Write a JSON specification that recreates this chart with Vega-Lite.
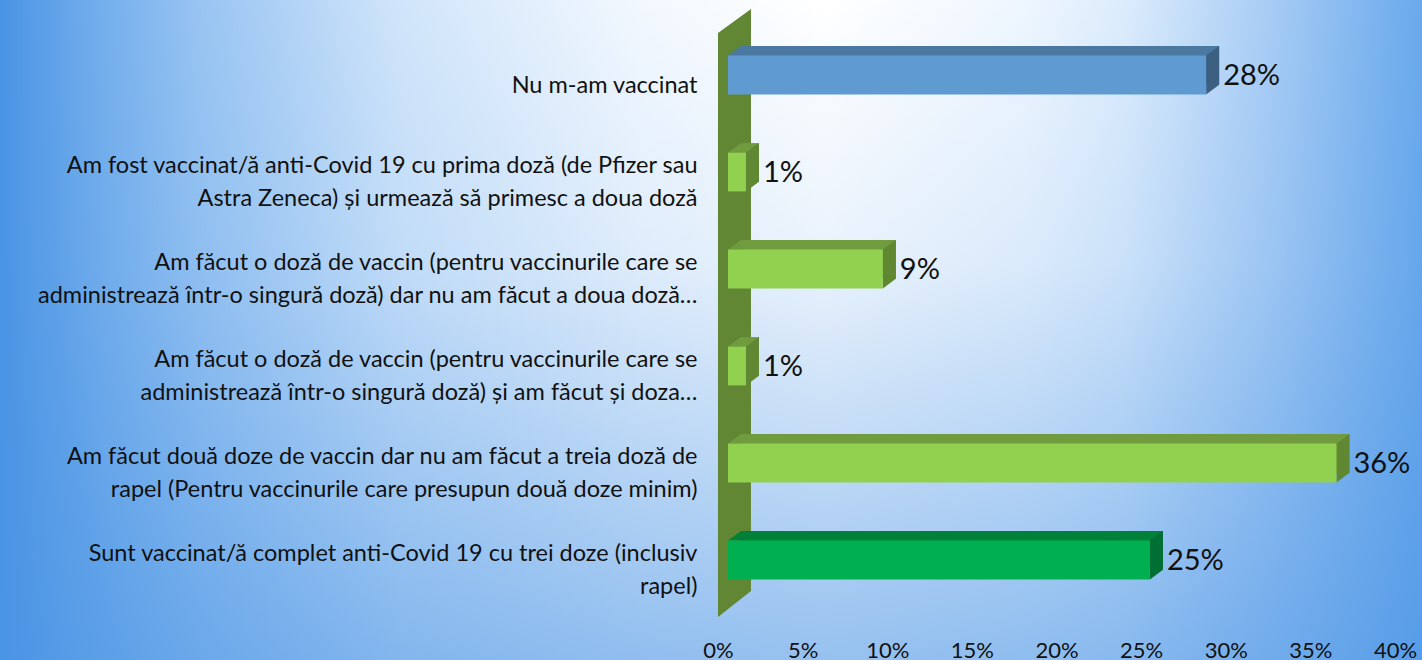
{
  "$schema": "https://vega.github.io/schema/vega-lite/v6.json",
  "width": 1422,
  "height": 660,
  "autosize": {"type": "none"},
  "padding": 0,
  "background": "#8fc0f0",
  "config": {
    "font": "Lato",
    "view": {
      "stroke": null,
      "fill": {
        "gradient": "linear",
        "x1": 0, "y1": 0, "x2": 1, "y2": 0,
        "stops": [
          {"offset": 0, "color": "#4a94e4"},
          {"offset": 0.07, "color": "#73aeec"},
          {"offset": 0.14, "color": "#98c4f2"},
          {"offset": 0.28, "color": "#d0e5fa"},
          {"offset": 0.45, "color": "#f2f8fe"},
          {"offset": 0.58, "color": "#ffffff"},
          {"offset": 0.72, "color": "#eef6fe"},
          {"offset": 0.79, "color": "#dcecfc"},
          {"offset": 0.89, "color": "#a9cdf5"},
          {"offset": 1, "color": "#69a9ec"}
        ]
      }
    }
  },
  "data": {
    "values": [
      {"answer": "Nu m-am vaccinat", "group": "Nevaccinat", "share": 0.2825},
      {"answer": "Am fost vaccinat/ă anti-Covid 19 cu prima doză (de Pfizer sau\nAstra Zeneca) și urmează să primesc a doua doză", "group": "Parțial", "share": 0.0106},
      {"answer": "Am făcut o doză de vaccin (pentru vaccinurile care se\nadministrează într-o singură doză) dar nu am făcut a doua doză…", "group": "Parțial", "share": 0.0915},
      {"answer": "Am făcut o doză de vaccin (pentru vaccinurile care se\nadministrează într-o singură doză) și am făcut și doza…", "group": "Parțial", "share": 0.0106},
      {"answer": "Am făcut două doze de vaccin dar nu am făcut a treia doză de\nrapel (Pentru vaccinurile care presupun două doze minim)", "group": "Parțial", "share": 0.3595},
      {"answer": "Sunt vaccinat/ă complet anti-Covid 19 cu trei doze (inclusiv\nrapel)", "group": "Complet", "share": 0.2493}
    ]
  },
  "layer": [
    {
      "transform": [{"filter": "datum.group == 'Nevaccinat'"}],
      "mark": {
        "type": "rect",
        "fill": {
          "gradient": "linear",
          "x1": 0, "y1": 0, "x2": 0, "y2": 1,
          "stops": [
            {"offset": 0, "color": "rgba(74,148,228,0)"},
            {"offset": 0.4, "color": "rgba(74,148,228,0.12)"},
            {"offset": 1, "color": "rgba(74,148,228,0.58)"}
          ]
        }
      },
      "encoding": {"x": {"datum": -0.43, "type": "quantitative"}, "x2": {"datum": 0.42}}
    },
    {
      "transform": [{"filter": "datum.group == 'Nevaccinat'"}],
      "mark": {
        "type": "point",
        "filled": true,
        "opacity": 1,
        "color": "#628734",
        "strokeWidth": 0,
        "size": 4,
        "shape": "M-16.6,-42L16.4,-66L16.4,516L-16.6,542Z"
      },
      "encoding": {
        "x": {"datum": 0.0098, "type": "quantitative"},
        "y": {"field": "answer", "type": "nominal", "sort": null}
      }
    },
    {
      "mark": {"type": "bar", "xOffset": 23, "x2Offset": 23, "yOffset": -9.5, "y2Offset": -9.5},
      "encoding": {
        "x": {"field": "share", "type": "quantitative"},
        "y": {"field": "answer", "type": "nominal", "sort": null},
        "color": {"field": "group", "type": "nominal", "legend": null,
          "scale": {"domain": ["Nevaccinat", "Parțial", "Complet"], "range": ["#4a78a0", "#709b3e", "#008038"]}}
      }
    },
    {
      "mark": {"type": "point", "filled": true, "opacity": 1, "strokeWidth": 0, "size": 4,
        "shape": "M10,-19.4L23,-29L23,-19.4Z"},
      "encoding": {
        "x": {"datum": 0, "type": "quantitative"},
        "y": {"field": "answer", "type": "nominal", "sort": null},
        "color": {"field": "group", "type": "nominal", "legend": null,
          "scale": {"domain": ["Nevaccinat", "Parțial", "Complet"], "range": ["#4a78a0", "#709b3e", "#008038"]}}
      }
    },
    {
      "mark": {"type": "point", "filled": true, "opacity": 1, "strokeWidth": 0, "size": 4,
        "shape": "M10,-19.4L23,-29L23,9.8L10,19.4Z"},
      "encoding": {
        "x": {"field": "share", "type": "quantitative"},
        "y": {"field": "answer", "type": "nominal", "sort": null},
        "color": {"field": "group", "type": "nominal", "legend": null,
          "scale": {"domain": ["Nevaccinat", "Parțial", "Complet"], "range": ["#3c6082", "#608732", "#006f34"]}}
      }
    },
    {
      "mark": {"type": "bar", "xOffset": 10, "x2Offset": 10},
      "encoding": {
        "y": {
          "field": "answer",
          "type": "nominal",
          "sort": null,
          "scale": {
            "domain": [
              "Nu m-am vaccinat",
              "Am fost vaccinat/ă anti-Covid 19 cu prima doză (de Pfizer sau\nAstra Zeneca) și urmează să primesc a doua doză",
              "Am făcut o doză de vaccin (pentru vaccinurile care se\nadministrează într-o singură doză) dar nu am făcut a doua doză…",
              "Am făcut o doză de vaccin (pentru vaccinurile care se\nadministrează într-o singură doză) și am făcut și doza…",
              "Am făcut două doze de vaccin dar nu am făcut a treia doză de\nrapel (Pentru vaccinurile care presupun două doze minim)",
              "Sunt vaccinat/ă complet anti-Covid 19 cu trei doze (inclusiv\nrapel)"
            ],
            "range": [26.5, 608.5], "paddingInner": 0.6, "paddingOuter": 0.3
          },
          "axis": {
            "orient": "left",
            "offset": -700,
            "title": null,
            "ticks": false,
            "domain": false,
            "labelAlign": "right",
            "labelPadding": 3,
            "labelFontSize": 23.5,
            "labelLineHeight": 33,
            "labelLimit": 1000,
            "labelOffset": {"condition": {"test": "indexof(datum.value, '\\n') >= 0", "value": -6}, "value": 11},
            "labelColor": "#111111",
            "labelExpr": "split(datum.label, '\\n')",
            "zindex": 1
          }
        },
        "x": {
          "field": "share",
          "type": "quantitative",
          "scale": {"domain": [0, 0.4], "range": [718, 1395], "nice": false, "zero": true},
          "axis": {
            "orient": "bottom",
            "offset": -22,
            "title": null,
            "grid": false,
            "ticks": false,
            "domain": false,
            "values": [0, 0.05, 0.1, 0.15, 0.2, 0.25, 0.3, 0.35, 0.4],
            "format": ".0%",
            "labelFlush": false,
            "labelFontSize": 22,
            "labelColor": "#111111",
            "labelPadding": 2,
            "zindex": 1
          }
        },
        "color": {"field": "group", "type": "nominal", "legend": null,
          "scale": {"domain": ["Nevaccinat", "Parțial", "Complet"], "range": ["#5f9bd1", "#92d050", "#00b050"]}}
      }
    },
    {
      "mark": {"type": "text", "align": "left", "baseline": "middle", "dx": 27, "dy": 1, "fontSize": 29, "color": "#111111"},
      "encoding": {
        "x": {"field": "share", "type": "quantitative"},
        "y": {"field": "answer", "type": "nominal", "sort": null},
        "text": {"field": "share", "type": "quantitative", "format": ".0%"}
      }
    }
  ],
  "resolve": {"scale": {"color": "independent"}}
}
